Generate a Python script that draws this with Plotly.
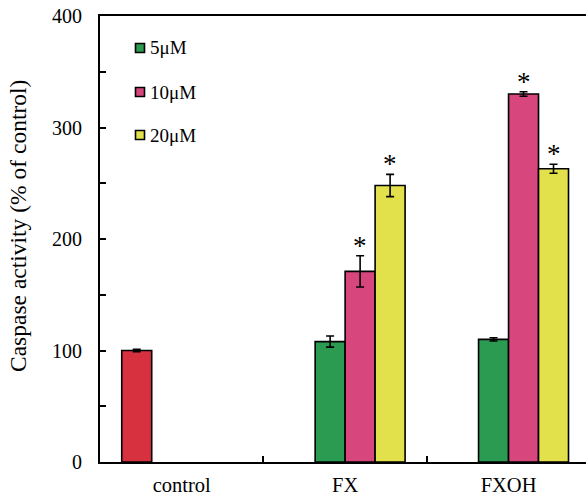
import plotly.graph_objects as go

# Caspase activity data (% of control), mean and error
categories = ["control", "FX", "FXOH"]
control_vals = [100, None, None]
control_err = [1, 0, 0]
vals_5uM = [None, 108, 110]
err_5uM = [0, 5, 1.5]
vals_10uM = [None, 171, 330]
err_10uM = [0, 14, 2]
vals_20uM = [None, 248, 263]
err_20uM = [0, 10, 4]
# significance marks per category
sig_10uM = [False, True, True]
sig_20uM = [False, True, True]

SERIF = "Liberation Serif, Times New Roman, serif"
W = 0.1835  # bar width in category units

# plot-area geometry in pixels (for placing legend / title in paper units)
L, R, T, B = 100, 586, 16, 462


def px_x(p):
    return (p - L) / (R - L)


def px_y(p):
    return (B - p) / (B - T)


series = [
    ("control", control_vals, control_err, "#D7303F", -2 * W, False),
    ("5\u03bcM", vals_5uM, err_5uM, "#2A9B50", -1 * W, True),
    ("10\u03bcM", vals_10uM, err_10uM, "#D8467E", 0.0, True),
    ("20\u03bcM", vals_20uM, err_20uM, "#E2E14C", 1 * W, True),
]

fig = go.Figure()
for name, v, e, col, off, _ in series:
    fig.add_trace(go.Bar(
        x=categories, y=v, name=name, width=W, offset=off,
        marker=dict(color=col, line=dict(color="black", width=1.6)),
        error_y=dict(type="data", array=e, visible=True, color="black",
                     thickness=1.6, width=4),
        showlegend=False,
    ))

# asterisks above significant bars
for vals, errs, sig, off in [(vals_10uM, err_10uM, sig_10uM, 0.0),
                             (vals_20uM, err_20uM, sig_20uM, W)]:
    for i, (v, e, s) in enumerate(zip(vals, errs, sig)):
        if s and v is not None:
            fig.add_annotation(
                x=i + off + W / 2, y=v + e, text="*", showarrow=False,
                yanchor="bottom", yshift=-7,
                font=dict(family=SERIF, size=27, color="black"),
            )

# legend: outlined squares with labels
legend_rows = [48, 92, 135]
for (name, v, e, col, off, show), yc in zip(
        [s for s in series if s[5]], legend_rows):
    fig.add_shape(
        type="rect", xref="paper", yref="paper",
        x0=px_x(135.5), x1=px_x(144.5), y0=px_y(yc + 4.5), y1=px_y(yc - 4.5),
        fillcolor=col, line=dict(color="black", width=1.6),
    )
    fig.add_annotation(
        x=px_x(148), y=px_y(yc), xref="paper", yref="paper", text=name,
        showarrow=False, xanchor="left", yanchor="middle",
        font=dict(family=SERIF, size=19, color="black"),
    )

# y-axis title
fig.add_annotation(
    x=px_x(18), y=px_y(226), xref="paper", yref="paper",
    text="Caspase activity (% of control)", textangle=-90, showarrow=False,
    xanchor="center", yanchor="middle",
    font=dict(family=SERIF, size=23.5, color="black"),
)

fig.update_layout(
    width=586, height=497,
    margin=dict(l=L, r=586 - R, t=T, b=497 - B),
    plot_bgcolor="white", paper_bgcolor="white",
    barmode="overlay", showlegend=False,
    font=dict(family=SERIF, size=19, color="black"),
    xaxis=dict(
        range=[-0.5, 2.474], showline=True, linecolor="black", linewidth=2,
        mirror=True, ticks="inside", tickson="boundaries", ticklen=6,
        tickwidth=1.5, tickcolor="black", showgrid=False, automargin=False,
        tickfont=dict(family=SERIF, size=20.5), ticklabelstandoff=3,
    ),
    yaxis=dict(
        range=[0, 400], showline=True, linecolor="black", linewidth=2,
        ticks="inside", ticklen=6, tickwidth=1.5, tickcolor="black",
        tickvals=[0, 100, 200, 300, 400], showgrid=False, zeroline=False,
        automargin=False,
        minor=dict(ticks="inside", ticklen=6, tickwidth=1.5,
                   tickcolor="black", dtick=50),
        tickfont=dict(family=SERIF, size=20), ticklabelstandoff=12,
    ),
)

fig.write_html("out.html")
